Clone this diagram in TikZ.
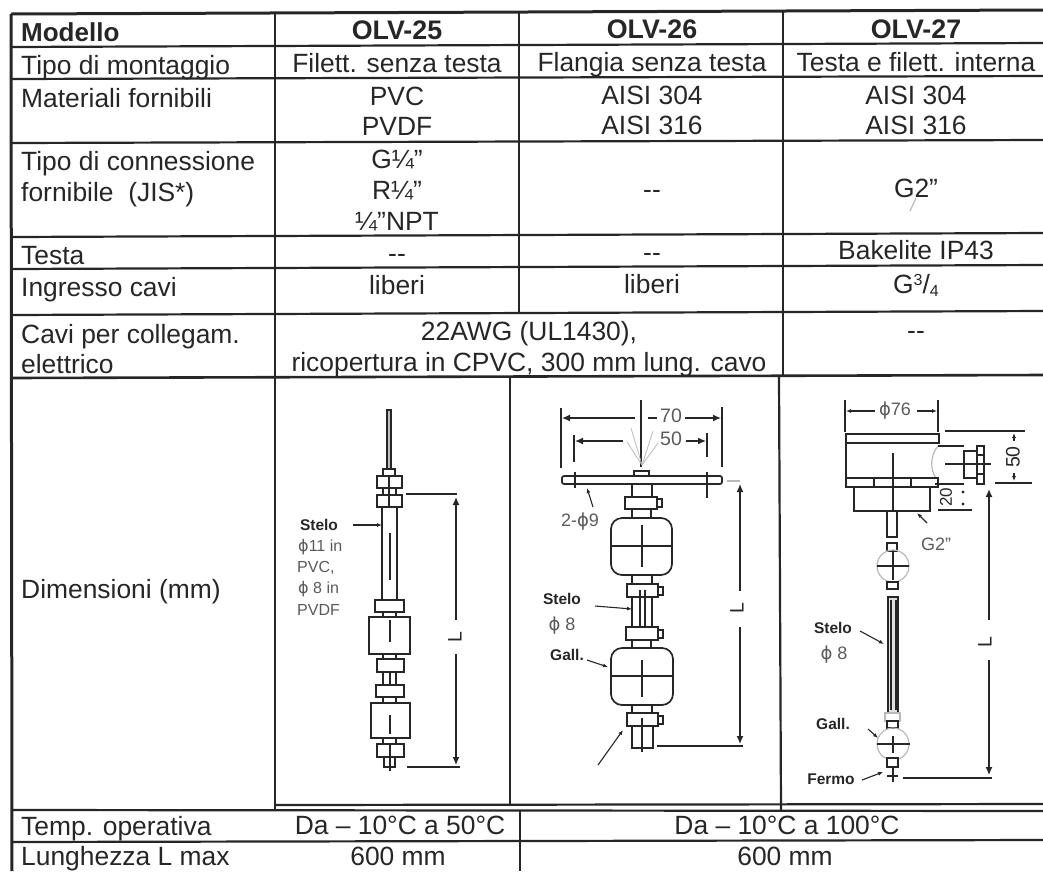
\documentclass[tikz,border=0pt]{standalone}
\usepackage{fontspec}
\setmainfont{Liberation Sans}
\newfontfamily\diafont{DejaVu Sans}
\newcommand{\dia}{{\diafont ϕ}}
\usetikzlibrary{arrows.meta}
\definecolor{inkline}{HTML}{262626}
\definecolor{inkgrey}{HTML}{5A5A5A}
\tikzset{
    rowhead/.style={anchor=base west, inner sep=0pt, text=inkline, font=\fontsize{26.4}{30}\selectfont},
    celltext/.style={anchor=base, inner sep=0pt, text=inkline, font=\fontsize{26.4}{30}\selectfont},
    colhead/.style={anchor=base, inner sep=0pt, text=inkline, font=\bfseries\fontsize{26.8}{30}\selectfont},
    rule/.style={line width=2.2pt, draw=inkline},
    part/.style={line width=1.7pt, draw=inkline, fill=white},
    detail/.style={line width=1.1pt, draw=inkline},
    faint/.style={line width=0.8pt, draw=gray!55},
    dimarrow/.style={line width=1.3pt, draw=inkline, -{Latex[length=8pt,width=7pt]}},
    smallarrow/.style={line width=1.1pt, draw=inkline, -{Latex[length=5pt,width=4pt]}},
    tag/.style={inner sep=0pt, text=inkline, font=\bfseries\fontsize{15.5}{18}\selectfont},
    note/.style={inner sep=0pt, text=inkgrey, font=\fontsize{16}{18}\selectfont},
    dimtext/.style={inner sep=0pt, text=inkgrey, font=\fontsize{19.5}{22}\selectfont},
}
\begin{document}
\begin{tikzpicture}[x=1pt, y=-1pt]
        \useasboundingbox (0, 0) rectangle (1043, 871);

        % Table rules
        \draw[rule, line width=3pt] (11, 14) -- (1043, 10);
        \draw[rule] (11, 47) -- (1043, 43);
        \draw[rule] (11, 79) -- (1043, 76);
        \draw[rule] (11, 143) -- (1043, 140);
        \draw[rule] (11, 237) -- (1043, 233);
        \draw[rule] (11, 269) -- (1043, 265);
        \draw[rule] (11, 315) -- (1043, 311);
        \draw[rule, line width=2.6pt] (11, 378) -- (1043, 375);
        \draw[rule] (275, 805) -- (1043, 804);
        \draw[rule] (11, 810) -- (1043, 811);
        \draw[rule] (11, 842) -- (1043, 840);
        \draw[rule, line width=3pt] (11, 14) -- (12, 871);
        \draw[rule] (275, 14) -- (275, 810);
        \draw[rule] (519, 12) -- (519, 313);
        \draw[rule] (510, 377) -- (510, 806);
        \draw[rule] (520, 810) -- (520, 871);
        \draw[rule] (783, 11) -- (783, 376);
        \draw[rule] (779, 376) -- (781, 810);

        % First column
        \node[rowhead, font=\bfseries\fontsize{26}{30}\selectfont] (modello) at (21, 41) {Modello};
        \node[rowhead] (montaggio) at (21, 74) {Tipo di montaggio};
        \node[rowhead] (materiali) at (21, 107) {Materiali fornibili};
        \node[rowhead] (connessione) at (21, 170) {Tipo di connessione};
        \node[rowhead] (fornibile) at (21, 201) {fornibile\ \ (JIS*)};
        \node[rowhead] (testa) at (21, 264) {Testa};
        \node[rowhead] (ingresso) at (21, 296) {Ingresso cavi};
        \node[rowhead] (cavi) at (21, 343) {Cavi per collegam.};
        \node[rowhead] (elettrico) at (21, 373) {elettrico};
        \node[rowhead] (dimensioni) at (21, 598) {Dimensioni (mm)};
        \node[rowhead] (temp) at (21, 835) {Temp. operativa};
        \node[rowhead] (lunghezza) at (21, 865) {Lunghezza L max};

        % OLV-25 column
        \node[colhead] (olva) at (397, 39) {OLV-25};
        \node[celltext] (montaggioa) at (397, 72) {Filett. senza testa};
        \node[celltext] (pvc) at (397, 105) {PVC};
        \node[celltext] (pvdf) at (397, 135) {PVDF};
        \node[celltext] (gquarter) at (397, 168) {G¼”};
        \node[celltext] (rquarter) at (397, 199) {R¼”};
        \node[celltext] (npt) at (397, 230) {¼”NPT};
        \node[celltext] (testaa) at (397, 262) {\mbox{-{}-}};
        \node[celltext] (liberia) at (397, 294) {liberi};
        \node[celltext] (awg) at (529, 340) {22AWG (UL1430),};
        \node[celltext] (ricopertura) at (529, 371) {ricopertura in CPVC, 300 mm lung. cavo};
        \node[celltext] (tempa) at (400, 834) {Da – 10°C a 50°C};
        \node[celltext] (lunga) at (398, 865) {600 mm};

        % OLV-26 column
        \node[colhead] (olvb) at (652, 38) {OLV-26};
        \node[celltext] (montaggiob) at (652, 71) {Flangia senza testa};
        \node[celltext] (aisiba) at (652, 104) {AISI 304};
        \node[celltext] (aisibb) at (652, 134) {AISI 316};
        \node[celltext] (connb) at (652, 198) {\mbox{-{}-}};
        \node[celltext] (testab) at (652, 261) {\mbox{-{}-}};
        \node[celltext] (liberib) at (652, 293) {liberi};
        \node[celltext] (tempb) at (787, 834) {Da – 10°C a 100°C};
        \node[celltext] (lungb) at (785, 865) {600 mm};

        % OLV-27 column
        \node[colhead] (olvc) at (916, 38) {OLV-27};
        \node[celltext] (montaggioc) at (916, 71) {Testa e filett. interna};
        \node[celltext] (aisica) at (916, 104) {AISI 304};
        \node[celltext] (aisicb) at (916, 134) {AISI 316};
        \node[celltext] (gdue) at (916, 197) {G2”};
        \node[celltext] (bakelite) at (916, 259) {Bakelite IP43};
        \node[celltext] (gcavi) at (916, 293) {G\raisebox{8pt}{\fontsize{16}{18}\selectfont 3}/\raisebox{-3pt}{\fontsize{16}{18}\selectfont 4}};
        \node[celltext] (cavic) at (916, 339) {\mbox{-{}-}};
        \draw[faint, line width=1.2pt] (916, 198) -- (910, 211);

        % Drawing OLV-25
        \draw[part, line width=2pt, fill=gray!50] (387, 410) rectangle (391, 469);
        \draw[part] (383, 469) rectangle (395, 476);
        \draw[part] (377, 476) rectangle (402, 488);
        \draw[part] (377, 495) rectangle (402, 507);
        \draw[detail] (389, 476) -- (389, 507);
        \draw[detail] (383, 488) -- (383, 495);
        \draw[detail] (396, 488) -- (396, 495);
        \draw[part] (382, 507) rectangle (397, 600);
        \draw[detail] (390, 533) -- (390, 580);
        \draw[part] (375, 600) rectangle (404, 612);
        \draw[detail] (383, 612) -- (383, 617);
        \draw[detail] (396, 612) -- (396, 617);
        \draw[part] (369, 617) rectangle (410, 654);
        \draw[detail] (390, 620) -- (390, 642);
        \draw[detail] (383, 654) -- (383, 659);
        \draw[detail] (396, 654) -- (396, 659);
        \draw[part] (377, 659) rectangle (404, 672);
        \draw[detail] (383, 672) -- (383, 685);
        \draw[detail] (396, 672) -- (396, 685);
        \draw[detail] (390, 672) -- (390, 685);
        \draw[part] (376, 685) rectangle (404, 697);
        \draw[detail] (383, 697) -- (383, 703);
        \draw[detail] (396, 697) -- (396, 703);
        \draw[part] (371, 703) rectangle (410, 738);
        \draw[detail] (390, 715) -- (390, 734);
        \draw[detail] (383, 738) -- (383, 744);
        \draw[detail] (396, 738) -- (396, 744);
        \draw[part] (377, 744) rectangle (404, 757);
        \draw[part] (384, 757) rectangle (395, 767);
        \draw[detail] (390, 744) -- (390, 771);

        \draw[detail] (406, 494) -- (457, 494);
        \draw[detail] (407, 767) -- (460, 767);
        \node[dimtext, rotate=90, text=inkline] (la) at (455, 637) {L};
        \draw[dimarrow] (la) ++(1, -17) -- (456, 497);
        \draw[dimarrow] (la) ++(1, 17) -- (456, 765);

        \node[tag] (steloa) at (319, 525) {Stelo};
        \coordinate (steloatip) at (382, 525);
        \draw[smallarrow] (steloa) ++(34, 0) -- (steloatip);
        \node[note, anchor=west] (notea) at (298, 547) {\dia11 in};
        \node[note, anchor=west] (noteb) at (297, 568) {PVC,};
        \node[note, anchor=west] (notec) at (298, 589) {\dia\ 8 in};
        \node[note, anchor=west] (noted) at (297, 610) {PVDF};

        % Drawing OLV-26
        \draw[detail] (641, 400) -- (641, 467);
        \draw[faint] (642, 465) -- (631, 428);
        \draw[faint] (642, 465) -- (627, 442);
        \draw[faint] (642, 465) -- (653, 431);
        \draw[faint] (642, 465) -- (658, 443);
        \draw[part] (634, 471) rectangle (649, 476);
        \draw[part, rounded corners=2pt] (562, 476) rectangle (722, 484);
        \draw[detail] (561, 408) -- (561, 468);
        \draw[detail] (722, 407) -- (722, 467);
        \draw[detail] (574, 435) -- (574, 462);
        \draw[detail] (707, 433) -- (707, 457);
        \draw[detail] (575, 472) -- (575, 488);
        \draw[detail] (707, 472) -- (707, 498);

        \draw[part] (632, 484) rectangle (652, 497);
        \draw[part] (657, 499) rectangle (662, 507);
        \draw[part] (625, 497) rectangle (657, 509);
        \draw[part] (632, 509) rectangle (651, 518);
        \draw[part, rounded corners=11pt] (611, 518) rectangle (672, 575);
        \draw[detail] (611, 546) -- (672, 546);
        \draw[detail] (642, 525) -- (642, 567);
        \draw[part] (632, 575) rectangle (652, 584);
        \draw[part] (658, 587) rectangle (663, 595);
        \draw[part] (627, 584) rectangle (658, 597);
        \draw[part] (632, 597) rectangle (652, 627);
        \draw[detail] (640, 590) -- (640, 636);
        \draw[detail] (645, 590) -- (645, 627);
        \draw[part] (658, 630) rectangle (663, 638);
        \draw[part] (626, 627) rectangle (658, 640);
        \draw[part] (632, 640) rectangle (651, 648);
        \draw[part, rounded corners=11pt] (611, 648) rectangle (673, 705);
        \draw[detail] (611, 676) -- (673, 676);
        \draw[detail] (642, 660) -- (642, 697);
        \draw[part] (632, 705) rectangle (652, 713);
        \draw[part] (658, 716) rectangle (663, 724);
        \draw[part] (627, 713) rectangle (658, 726);
        \draw[part] (632, 726) rectangle (653, 748);
        \draw[detail] (642, 718) -- (642, 752);

        \node[dimtext] (seventy) at (671, 416) {70};
        \node[dimtext] (fifty) at (671, 439) {50};
        \coordinate (seventyl) at (562, 418);
        \coordinate (seventyr) at (721, 418);
        \coordinate (fiftyl) at (575, 441);
        \coordinate (fiftyr) at (706, 441);
        \draw[dimarrow] (635, 418) -- (seventyl);
        \draw[detail] (648, 418) -- (657, 418);
        \draw[dimarrow] (685, 418) -- (seventyr);
        \draw[dimarrow] (623, 441) -- (fiftyl);
        \draw[dimarrow] (690, 441) -- (fiftyr);
        \draw[detail] (686, 441) -- (690, 441);

        \draw[faint, line width=1.2pt] (727, 481) -- (740, 481);
        \draw[detail] (657, 746) -- (743, 746);
        \node[dimtext, rotate=90, text=inkline] (lb) at (737, 608) {L};
        \draw[dimarrow] (740, 591) -- (740, 484);
        \draw[dimarrow] (740, 627) -- (740, 744);

        \node[dimtext, font=\fontsize{18}{22}\selectfont] (holes) at (580, 522) {2-\dia9};
        \coordinate (holestip) at (587, 488);
        \draw[smallarrow] (holes) ++(13, -15) -- (holestip);
        \node[tag] (stelob) at (562, 599) {Stelo};
        \coordinate (stelobtip) at (632, 609);
        \draw[smallarrow] (stelob) ++(33, 7) -- (stelobtip);
        \node[note, font=\fontsize{18}{20}\selectfont] (phib) at (562, 626) {\dia\ 8};
        \node[tag] (gallb) at (567, 655) {Gall.};
        \coordinate (gallbtip) at (608, 667);
        \draw[smallarrow] (gallb) ++(20, 5) -- (gallbtip);
        \coordinate (fermotail) at (598, 765);
        \coordinate (fermotip) at (623, 730);
        \draw[smallarrow] (fermotail) -- (fermotip);

        % Drawing OLV-27
        \draw[detail] (845, 400) -- (845, 432);
        \draw[detail] (938, 400) -- (938, 432);
        \node[dimtext, font=\fontsize{18}{22}\selectfont] (head) at (895, 411) {\dia76};
        \coordinate (headl) at (846, 411);
        \coordinate (headr) at (937, 411);
        \draw[smallarrow] (875, 411) -- (headl);
        \draw[smallarrow] (917, 411) -- (headr);

        \draw[part] (846, 434) rectangle (939, 443);
        \draw[detail, line width=1.7pt] (846, 443) -- (846, 478);
        \draw[faint, line width=1.2pt] (938, 446) .. controls (930, 455) and (930, 470) .. (936, 478);
        \draw[part] (846, 478) rectangle (938, 487);
        \draw[detail] (874, 478) -- (874, 487);
        \draw[detail] (911, 478) -- (911, 487);
        \draw[part] (854, 487) rectangle (930, 511);
        \draw[detail, line width=1.7pt] (938, 446) -- (964, 446);
        \draw[detail, line width=1.7pt] (935, 484) -- (964, 484);
        \draw[part] (964, 451) rectangle (977, 478);
        \draw[part] (977, 446) rectangle (984, 484);
        \draw[detail] (977, 455) -- (984, 455);
        \draw[detail] (977, 464) -- (984, 464);
        \draw[detail] (977, 474) -- (984, 474);
        \draw[detail] (945, 464) -- (991, 464);
        \draw[detail] (893, 453) -- (893, 510);

        \draw[detail] (945, 431) -- (1025, 431);
        \draw[detail, line width=1.7pt] (995, 483) -- (1032, 483);
        \node[dimtext, rotate=90, text=inkline] (fiftyv) at (1013, 457) {50};
        \draw[smallarrow] (1014, 441) -- (1014, 433);
        \draw[smallarrow] (1014, 473) -- (1014, 481);
        \draw[detail, line width=1.7pt] (938, 510) -- (972, 510);
        \node[dimtext, rotate=90, text=inkline, font=\fontsize{17}{20}\selectfont] (twenty) at (946, 497) {20};
        \node[circle, fill=inkline, inner sep=1.2pt] (dota) at (963, 492) {};
        \node[circle, fill=inkline, inner sep=1.2pt] (dotb) at (963, 504) {};
        \node[dimtext, font=\fontsize{18}{22}\selectfont] (gdrawn) at (936, 544) {G2”};
        \coordinate (gdrawntip) at (917, 513);
        \draw[smallarrow] (gdrawn) ++(-9, -21) -- (gdrawntip);

        \draw[part] (887, 511) rectangle (897, 537);
        \draw[part] (887, 543) rectangle (897, 551);
        \draw[faint, line width=1.2pt] (893, 566) circle[radius=16];
        \draw[detail, line width=1.7pt] (877, 566) -- (909, 566);
        \draw[detail, line width=1.7pt] (893, 552) -- (893, 580);
        \draw[part] (887, 582) rectangle (898, 589);
        \draw[part, fill=gray!25] (888, 597) rectangle (898, 713);
        \draw[detail] (891, 600) -- (891, 710);
        \draw[detail] (896, 600) -- (896, 710);
        \draw[faint, line width=1.2pt] (885, 713) rectangle (900, 721);
        \draw[part] (887, 721) rectangle (898, 728);
        \draw[faint, line width=1.2pt] (893, 744) circle[radius=16];
        \draw[detail, line width=1.7pt] (877, 744) -- (910, 744);
        \draw[detail, line width=1.7pt] (893, 736) -- (893, 753);
        \draw[part] (887, 758) rectangle (898, 767);
        \draw[detail, line width=1.7pt] (887, 776) -- (898, 776);
        \draw[detail, line width=1.7pt] (893, 767) -- (893, 782);

        \draw[detail, line width=1.7pt] (903, 778) -- (992, 778);
        \node[dimtext, rotate=90, text=inkline] (lc) at (985, 642) {L};
        \draw[dimarrow] (989, 620) -- (989, 489);
        \draw[dimarrow] (989, 660) -- (989, 775);

        \node[tag] (steloc) at (833, 628) {Stelo};
        \coordinate (steloctip) at (884, 644);
        \draw[smallarrow] (steloc) ++(27, 3) -- (steloctip);
        \node[note, font=\fontsize{18}{20}\selectfont] (phic) at (834, 655) {\dia\ 8};
        \node[tag] (gallc) at (833, 724) {Gall.};
        \coordinate (gallctip) at (878, 738);
        \draw[smallarrow] (gallc) ++(35, 5) -- (gallctip);
        \node[tag] (fermo) at (831, 779) {Fermo};
        \coordinate (fermoctip) at (883, 772);
        \draw[smallarrow] (fermo) ++(31, 1) -- (fermoctip);
    \end{tikzpicture}
\end{document}
